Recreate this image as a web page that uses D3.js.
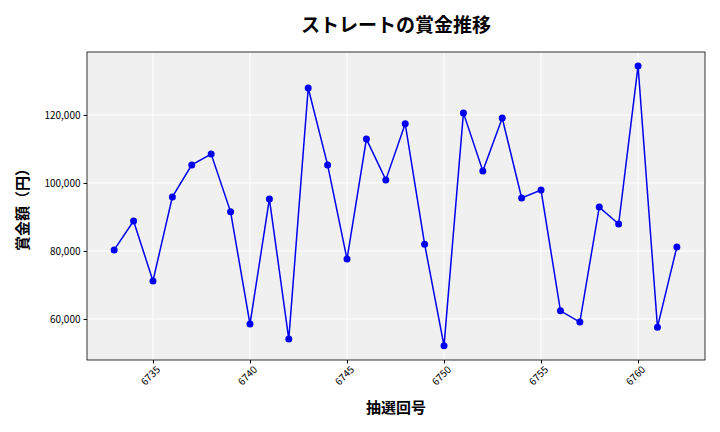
<!DOCTYPE html><html><head><meta charset="utf-8"><script src="https://cdn.jsdelivr.net/npm/d3@7"></script>
<style>body{margin:0;background:#fff}text{font-family:"Noto Sans CJK JP","Noto Sans",sans-serif}</style></head><body><svg id="c" width="720" height="432"></svg><script>
const draws=d3.range(6733,6763);
const prizes=[80300,88800,71200,95900,105300,108500,91500,58500,95300,54100,127900,105300,77600,112900,100900,117400,82000,52100,120600,103500,119100,95600,97900,62400,59100,92900,87900,134400,57600,81200];
const xTicks=[6735,6740,6745,6750,6755,6760];
const yTicks=[60000,80000,100000,120000];
const svg=d3.select("#c");
const L=87,R=705,T=52,B=360;
const x=d3.scaleLinear().domain([6731.6,6763.45]).range([L,R]);
const y=d3.scaleLinear().domain([47940,138500]).range([B,T]);
svg.append("rect").attr("x",L).attr("y",T).attr("width",R-L).attr("height",B-T).attr("fill","#f0f0f0");
svg.append("g").selectAll("line").data(xTicks).join("line").attr("x1",d=>x(d)).attr("x2",d=>x(d)).attr("y1",T).attr("y2",B).attr("stroke","#fff");
svg.append("g").selectAll("line").data(yTicks).join("line").attr("y1",d=>y(d)).attr("y2",d=>y(d)).attr("x1",L).attr("x2",R).attr("stroke","#fff");
svg.append("rect").attr("x",L).attr("y",T).attr("width",R-L).attr("height",B-T).attr("fill","none").attr("stroke","#000").attr("stroke-width",0.8);
const xa=svg.append("g").attr("transform",`translate(0,${B})`).call(d3.axisBottom(x).tickValues(xTicks).tickFormat(d3.format("d")).tickSize(3.5));
xa.select(".domain").remove();
xa.selectAll("text").attr("font-size",10).attr("text-anchor","end").attr("transform","rotate(-45)").attr("dx","-0.2em").attr("dy","0.6em");
const ya=svg.append("g").attr("transform",`translate(${L},0)`).call(d3.axisLeft(y).tickValues(yTicks).tickFormat(d3.format(",")).tickSize(3.5));
ya.select(".domain").remove();ya.selectAll("text").attr("font-size",10);
const data=draws.map((d,i)=>[d,prizes[i]]);
svg.append("path").datum(data).attr("d",d3.line().x(d=>x(d[0])).y(d=>y(d[1]))).attr("fill","none").attr("stroke","#0000ee").attr("stroke-width",1.5);
svg.append("g").selectAll("circle").data(data).join("circle").attr("cx",d=>x(d[0])).attr("cy",d=>y(d[1])).attr("r",3.5).attr("fill","#0000ee");
svg.append("text").attr("x",396).attr("y",32).attr("text-anchor","middle").attr("font-size",19).attr("font-weight","bold").text("ストレートの賞金推移");
svg.append("text").attr("x",396).attr("y",413).attr("text-anchor","middle").attr("font-size",15).attr("font-weight","bold").text("抽選回号");
svg.append("text").attr("transform","translate(28,206) rotate(-90)").attr("text-anchor","middle").attr("font-size",15).attr("font-weight","bold").text("賞金額（円）");
</script></body></html>
